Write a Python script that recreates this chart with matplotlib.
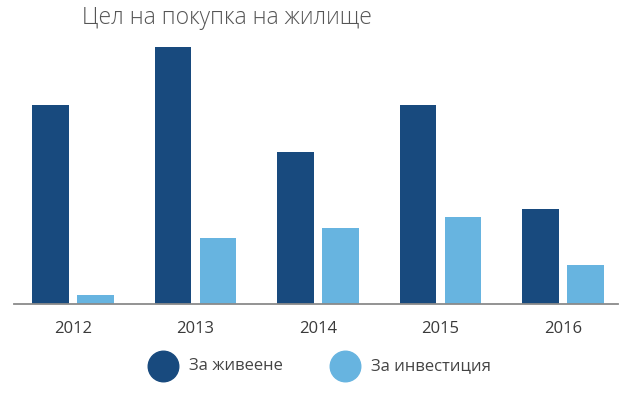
import matplotlib.pyplot as plt
from matplotlib.lines import Line2D
import numpy as np

plt.rcParams['font.family'] = ['Open Sans', 'DejaVu Sans']

years = ['2012', '2013', '2014', '2015', '2016']
living = [199, 257, 152, 199, 95]
investment = [9, 66, 76, 87, 39]
series_names = ['За живеене', 'За инвестиция']
title = 'Цел на покупка на жилище'

dark = '#184a7e'
light = '#67b4e0'

fig = plt.figure(figsize=(6.3, 3.93), dpi=100)
ax = fig.add_axes([14 / 630, (393 - 304) / 393, 604 / 630, 270 / 393])

x = np.arange(len(years))
w = 0.30
off = 0.184
ax.bar(x - off, living, w, color=dark)
ax.bar(x + off, investment, w, color=light)

ax.set_xlim(-0.482, 4.449)
ax.set_ylim(0, 270)
ax.set_xticks(x)
ax.set_xticklabels(years, fontsize=12, color='#3a3a3a')
ax.tick_params(axis='x', length=0, pad=12)
ax.set_yticks([])
for s in ['top', 'right', 'left']:
    ax.spines[s].set_visible(False)
ax.spines['bottom'].set_color('#8a8a8a')
ax.spines['bottom'].set_linewidth(1.3)

fig.text(82 / 630, 1 - 18 / 393, title, fontsize=16.5, color='#555555',
         va='center', ha='left', fontweight='light')

# legend
for cx, tx, col, name in [(163, 189, dark, series_names[0]),
                          (345, 371, light, series_names[1])]:
    fig.add_artist(Line2D([cx / 630], [1 - 366 / 393], marker='o', markersize=22,
                          color=col, linestyle='none', transform=fig.transFigure))
    fig.text(tx / 630, 1 - 366 / 393, name, fontsize=12, color='#444444',
             va='center', ha='left')

fig.savefig('out.png', dpi=100)
